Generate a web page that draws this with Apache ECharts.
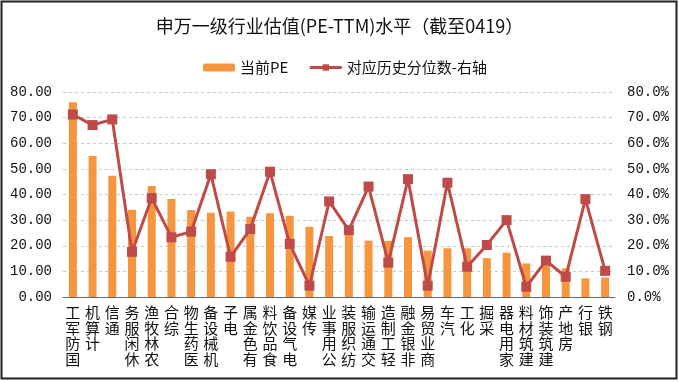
<!DOCTYPE html>
<html>
<head>
<meta charset="utf-8">
<script src="https://cdn.jsdelivr.net/npm/echarts@6/dist/echarts.min.js"></script>
<style>
html,body{margin:0;padding:0;background:#fff;}
#c{width:679px;height:382px;}
</style>
</head>
<body>
<div id="c"></div>
<script>
var titleText = '申万一级行业估值(PE-TTM)水平（截至0419）';
var seriesNames = ['当前PE', '对应历史分位数-右轴'];
var categories = ['国防军工','计算机','通信','休闲服务','农林牧渔','综合','医药生物','机械设备','电子','有色金属','食品饮料','电气设备','传媒','公用事业','纺织服装','交通运输','轻工制造','非银金融','商业贸易','汽车','化工','采掘','家用电器','建筑材料','建筑装饰','房地产','银行','钢铁'];
var pe = [76.0, 55.0, 47.3, 34.0, 43.3, 38.2, 34.0, 32.9, 33.4, 31.3, 32.7, 31.7, 27.4, 23.8, 24.8, 22.0, 21.9, 23.4, 18.1, 19.0, 19.0, 15.2, 17.3, 13.1, 12.5, 11.2, 7.3, 7.6];
var pct = [71.2, 67.1, 69.3, 17.6, 38.6, 23.3, 25.5, 47.9, 15.7, 26.5, 48.9, 20.7, 4.4, 37.3, 26.1, 43.1, 13.4, 46.0, 4.4, 44.6, 11.8, 20.3, 30.0, 4.0, 14.2, 7.9, 38.2, 10.2];
var leftTicks = {min: 0, max: 80, interval: 10};
var rightTicks = {min: 0, max: 80, interval: 10};

var numFont = '"Liberation Mono", "DejaVu Sans Mono", monospace';
var cjkFont = '"Noto Sans CJK SC", sans-serif';

var chart = echarts.init(document.getElementById('c'), null, {renderer: 'canvas'});
chart.setOption({
  animation: false,
  backgroundColor: '#fff',
  textStyle: {fontFamily: cjkFont},
  title: {
    text: titleText,
    left: 'center',
    top: 12,
    textStyle: {fontFamily: cjkFont, fontSize: 18, fontWeight: 'normal', color: '#111'}
  },
  legend: {
    left: 198,
    top: 55,
    itemWidth: 32,
    itemHeight: 8,
    itemGap: 20,
    lineStyle: {width: 3},
    textStyle: {fontFamily: cjkFont, fontSize: 15, color: '#111'},
    data: seriesNames
  },
  grid: {left: 63, right: 64, top: 92, bottom: 85, containLabel: false},
  xAxis: {
    type: 'category',
    data: categories,
    axisLine: {show: true, lineStyle: {color: '#666', width: 1}},
    axisTick: {show: false},
    axisLabel: {
      interval: 0,
      margin: 8,
      fontFamily: cjkFont,
      fontSize: 15,
      lineHeight: 15.5,
      color: '#111',
      verticalAlign: 'top',
      formatter: function (v) { return v.split('').reverse().join('\n'); }
    }
  },
  yAxis: [{
    type: 'value',
    min: leftTicks.min, max: leftTicks.max, interval: leftTicks.interval,
    axisLine: {show: false},
    axisTick: {show: false},
    splitLine: {show: true, lineStyle: {color: '#c8c8c8', type: [3, 3], width: 1}},
    axisLabel: {
      margin: 11,
      fontFamily: numFont,
      fontSize: 14,
      color: '#111',
      formatter: function (v) { return v.toFixed(2); }
    }
  }, {
    type: 'value',
    min: rightTicks.min, max: rightTicks.max, interval: rightTicks.interval,
    axisLine: {show: false},
    axisTick: {show: false},
    splitLine: {show: false},
    axisLabel: {
      margin: 12,
      fontFamily: numFont,
      fontSize: 14,
      color: '#111',
      formatter: function (v) { return v.toFixed(1) + '%'; }
    }
  }],
  series: [{
    name: seriesNames[0],
    type: 'bar',
    data: pe,
    barWidth: 8,
    yAxisIndex: 0,
    itemStyle: {color: '#F7953F'}
  }, {
    name: seriesNames[1],
    type: 'line',
    data: pct,
    yAxisIndex: 1,
    symbol: 'rect',
    symbolSize: 10,
    lineStyle: {color: '#BE4B48', width: 3},
    itemStyle: {color: '#BE4B48'},
    z: 5
  }],
  graphic: [{
    type: 'rect',
    shape: {x: 1.5, y: 1.5, width: 675, height: 377},
    style: {fill: null, stroke: '#222', lineWidth: 2},
    silent: true,
    z: 100
  }]
});
</script>
</body>
</html>
